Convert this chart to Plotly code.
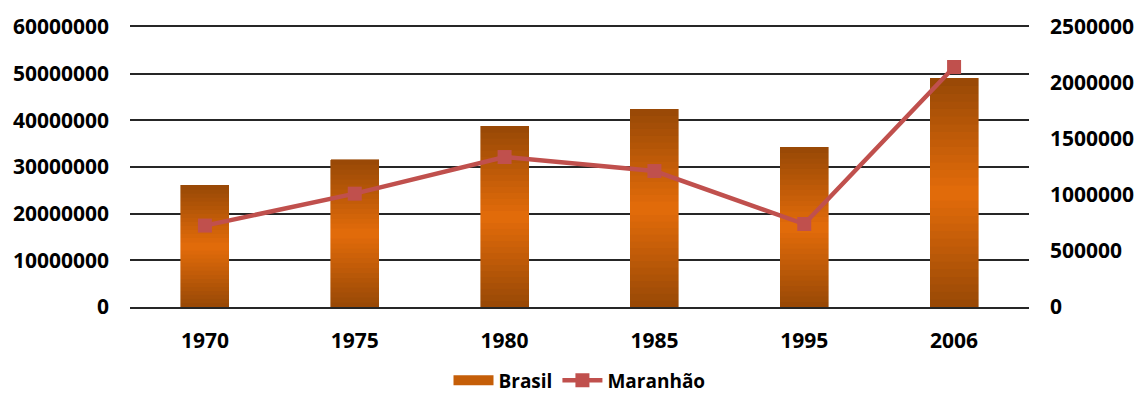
import plotly.graph_objects as go

years = ["1970", "1975", "1980", "1985", "1995", "2006"]
brasil = [26100000, 31600000, 38700000, 42400000, 34200000, 49000000]
maranhao = [727000, 1012000, 1339000, 1214000, 741000, 2143000]

left_ticks = [0, 10000000, 20000000, 30000000, 40000000, 50000000, 60000000]
right_ticks = [0, 500000, 1000000, 1500000, 2000000, 2500000]

DARK = (0x97, 0x48, 0x06)
ORANGE = (0xE4, 0x6C, 0x0A)
N = 30


def mix(t):
    c = [round(DARK[i] + (ORANGE[i] - DARK[i]) * t) for i in range(3)]
    return "rgb(%d,%d,%d)" % tuple(c)


fig = go.Figure()
# Brasil bars, rendered as a vertical gradient (dark - orange - dark)
for k in range(N):
    pos = (k + 0.5) / N
    intensity = 1 - abs(2 * pos - 1)
    col = mix(intensity)
    fig.add_trace(go.Bar(
        x=years, y=[v / N for v in brasil],
        name="Brasil", legendgroup="brasil", showlegend=False,
        marker=dict(color=col, line=dict(color=col, width=0.6)),
        hoverinfo="skip",
        yaxis="y",
    ))

# legend swatch for Brasil (wide bar-like symbol)
fig.add_trace(go.Scatter(
    x=[None], y=[None], name="Brasil", legendgroup="brasil",
    mode="lines", line=dict(color=mix(0.6), width=12), yaxis="y",
))

fig.add_trace(go.Scatter(
    x=years, y=maranhao, name="Maranhão", mode="lines+markers",
    line=dict(color="#C0504D", width=4.5),
    marker=dict(symbol="square", size=14, color="#C0504D"),
    yaxis="y2",
))

font_bold = dict(family="Open Sans", size=21, color="black", weight="bold")
legend_font = dict(family="Open Sans", size=19, color="black", weight="bold")

fig.update_layout(
    width=1139, height=400,
    margin=dict(l=130, r=110, t=27, b=93, autoexpand=False),
    paper_bgcolor="white", plot_bgcolor="white",
    barmode="stack", bargap=0.68,
    showlegend=True,
    legend=dict(orientation="h", x=0.5, xanchor="center", xref="paper",
                y=-0.33, yanchor="bottom", font=legend_font,
                traceorder="normal", itemwidth=40),
    xaxis=dict(type="category", showgrid=False, showline=True, mirror=True,
               linecolor="#262626", linewidth=1.5, ticks="",
               tickfont=font_bold, ticklabelstandoff=14, zeroline=False),
    yaxis=dict(range=[0, 60000000], tickvals=left_ticks,
               ticktext=[str(v) for v in left_ticks],
               showgrid=True, gridcolor="#262626", gridwidth=1.5,
               zeroline=False, showline=False, ticks="",
               tickfont=font_bold, ticklabelstandoff=20, automargin=False),
    yaxis2=dict(range=[0, 2500000], tickvals=right_ticks,
                ticktext=[str(v) for v in right_ticks],
                overlaying="y", side="right", showgrid=False,
                zeroline=False, showline=False, ticks="",
                tickfont=font_bold, ticklabelstandoff=20, automargin=False),
)

fig.write_html(
    "out.html",
    config={"displayModeBar": False},
    post_script="document.body.style.margin='0';document.body.style.overflow='hidden';",
)
